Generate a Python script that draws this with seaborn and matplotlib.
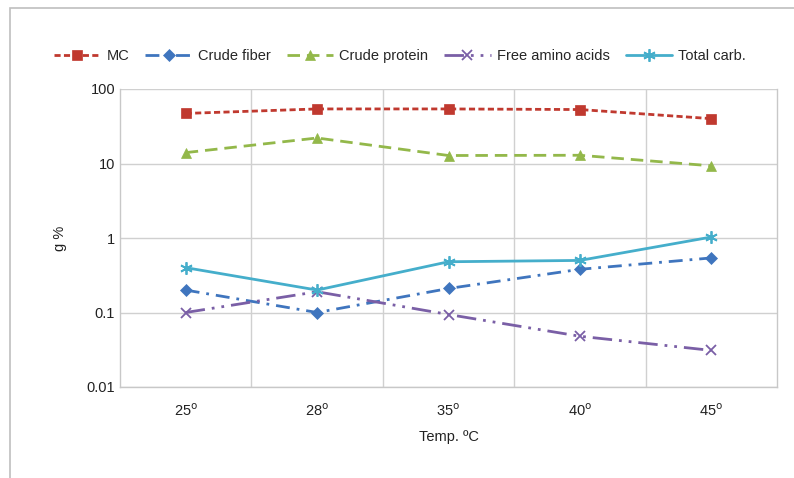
import matplotlib
matplotlib.use("Agg")
import matplotlib.pyplot as plt
import seaborn as sns
import pandas as pd
from matplotlib.patches import Rectangle
from matplotlib.ticker import FixedLocator, FixedFormatter

sns.set_theme(style="white")
plt.rcParams['font.family'] = ['Liberation Sans', 'DejaVu Sans']

temps = ["25", "28", "35", "40", "45"]
tick_labels = [r"25$^{\mathrm{o}}$", r"28$^{\mathrm{o}}$", r"35$^{\mathrm{o}}$", r"40$^{\mathrm{o}}$", r"45$^{\mathrm{o}}$"]
mc = [47, 54, 54, 53, 40]
crude_fiber = [0.2, 0.1, 0.21, 0.38, 0.54]
crude_protein = [14, 22, 12.8, 12.9, 9.3]
free_amino = [0.1, 0.19, 0.094, 0.048, 0.031]
total_carb = [0.40, 0.20, 0.48, 0.50, 1.03]

series = [
    ("MC", mc, "#C0392F", "s", (2.2, 1.2), 7),
    ("Crude fiber", crude_fiber, "#3F75BE", "D", (5, 2.5, 1, 2.5), 6),
    ("Crude protein", crude_protein, "#93B84A", "^", (4.5, 2.5), 7.5),
    ("Free amino acids", free_amino, "#7A5FA6", "x", (7, 2.5, 1, 2.5, 1, 2.5), 7),
    ("Total carb.", total_carb, "#45AECB", (6, 2, 0), None, 9),
]

fig = plt.figure(figsize=(7.94, 4.78), dpi=100)
ax = fig.add_axes([120/794, 1-387/478, 657/794, (387-89)/478])

fig.patches.append(Rectangle((10/794, -0.05), 1.0, 1.05-8/478, transform=fig.transFigure,
                             fill=False, edgecolor="#BFBFBF", linewidth=1.2))

for name, vals, color, marker, dash, ms in series:
    df = pd.DataFrame({"x": list(range(len(temps))), "y": vals})
    sns.lineplot(data=df, x="x", y="y", ax=ax, color=color, marker=marker,
                 markersize=ms, markeredgecolor=color, markerfacecolor=color,
                 markeredgewidth=1.3 if marker in ("x", (6, 2, 0)) else 0.5,
                 linewidth=2.0, label=name)
    l = ax.lines[-1]
    if dash is None:
        l.set_linestyle("-")
    else:
        l.set_dashes(dash)

ax.set_yscale("log")
ax.set_ylim(0.01, 100)
ax.set_xlim(-0.5, 4.5)
ax.yaxis.set_major_locator(FixedLocator([0.01, 0.1, 1, 10, 100]))
ax.yaxis.set_major_formatter(FixedFormatter(["0.01", "0.1", "1", "10", "100"]))
ax.yaxis.set_minor_locator(FixedLocator([]))
ax.set_xticks(range(len(temps)))
ax.set_xticklabels(tick_labels)
ax.set_xticks([0.5, 1.5, 2.5, 3.5], minor=True)
ax.grid(True, which="major", axis="y", color="#D0D0D0", linewidth=1.0)
ax.grid(True, which="minor", axis="x", color="#D0D0D0", linewidth=1.0)
ax.grid(False, which="major", axis="x")
ax.tick_params(axis="both", which="both", length=0, labelsize=10.5, colors="#222222")
ax.tick_params(axis="x", pad=11)
ax.spines["top"].set_visible(False)
for s in ["left", "bottom", "right"]:
    ax.spines[s].set_color("#C8C8C8")
    ax.spines[s].set_linewidth(1.0)

ax.set_xlabel("Temp. ºC", fontsize=10.5, color="#222222", labelpad=8)
ax.set_ylabel("g %", fontsize=10.5, color="#222222", labelpad=14)

ax.legend(loc="center", bbox_to_anchor=(0.426, 1.11), ncol=5, frameon=False,
          fontsize=10.5, handlelength=3.2, columnspacing=1.1, handletextpad=0.4)

fig.savefig("out.png", dpi=100, facecolor="white")
